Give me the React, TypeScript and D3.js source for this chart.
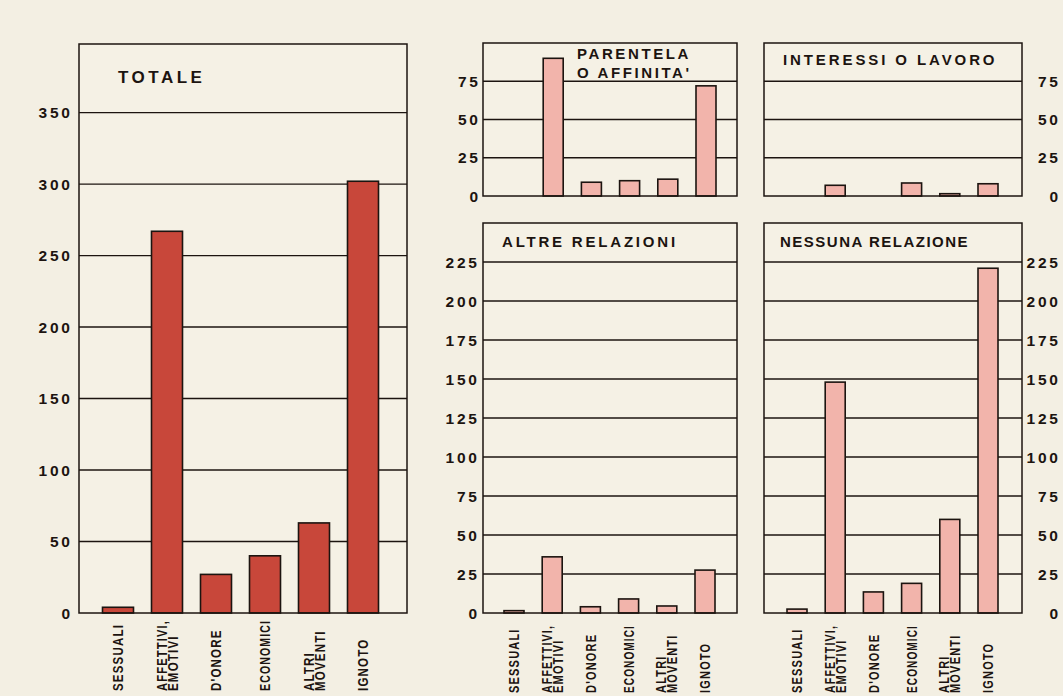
import React from "react";
import * as d3 from "d3";

// ---------- data ----------
const categories = ["SESSUALI", "AFFETTIVI, EMOTIVI", "D'ONORE", "ECONOMICI", "ALTRI MOVENTI", "IGNOTO"];
const categoryLines: string[][] = [["SESSUALI"], ["AFFETTIVI,", "EMOTIVI"], ["D'ONORE"], ["ECONOMICI"], ["ALTRI", "MOVENTI"], ["IGNOTO"]];
const totaleValues = [4, 267, 27, 40, 63, 302];
const parentelaValues = [0, 90, 9, 10, 11, 72];
const interessiValues = [0, 7, 0, 8.5, 1.5, 8];
const altreValues = [1.5, 36, 4, 9, 4.5, 27.5];
const nessunaValues = [2.5, 148, 13.5, 19, 60, 221];
const totaleTicks = [0, 50, 100, 150, 200, 250, 300, 350];
const upperTicks = [0, 25, 50, 75];
const lowerTicks = [0, 25, 50, 75, 100, 125, 150, 175, 200, 225];

// ---------- styles ----------
const BG = "#f3efe3";
const PANEL_BG = "#f5f1e5";
const INK = "#1c1410";
const FONT = "'Liberation Sans', Arial, sans-serif";

type PanelProps = {
  titleLines: string[];
  titleX: number;
  titleY: number;
  titleSize: number;
  titleSpacing: number;
  values: number[];
  ticks: number[];
  domainMax: number;
  x0: number;
  x1: number;
  yTop: number;
  yZero: number;
  barStart: number;
  barEnd: number;
  barWidth: number;
  tickX: number;
  fill: string;
  showLabels: boolean;
  labelBottom: number;
  labelSize: number;
  labelMax: number;
};

function Panel(p: PanelProps) {
  const y = d3.scaleLinear().domain([0, p.domainMax]).range([p.yZero, p.yTop]);
  const x = d3.scalePoint<string>().domain(categories).range([p.barStart, p.barEnd]);
  const tickLs = 2.8;
  return (
    <g>
      <rect x={p.x0} y={p.yTop} width={p.x1 - p.x0} height={p.yZero - p.yTop} fill={PANEL_BG} />
      {p.ticks.filter((t) => t > 0).map((t) => (
        <line key={"g" + t} x1={p.x0} x2={p.x1} y1={y(t)} y2={y(t)} stroke={INK} strokeWidth={1.4} />
      ))}
      {categories.map((c, i) => {
        const v = p.values[i];
        if (!v) return null;
        const cx = x(c) as number;
        return (
          <rect key={"b" + c} x={cx - p.barWidth / 2} y={y(v)} width={p.barWidth} height={p.yZero - y(v)}
            fill={p.fill} stroke={INK} strokeWidth={1.6} />
        );
      })}
      <rect x={p.x0} y={p.yTop} width={p.x1 - p.x0} height={p.yZero - p.yTop} fill="none" stroke={INK} strokeWidth={1.5} />
      {p.ticks.map((t) => (
        <text key={"t" + t} x={p.tickX + tickLs} y={y(t)} dy="0.36em" textAnchor="end"
          fontFamily={FONT} fontWeight="bold" fontSize={15.5} letterSpacing={tickLs} fill={INK}>
          {t}
        </text>
      ))}
      {p.titleLines.map((l, i) => (
        <text key={"h" + i} x={p.titleX} y={p.titleY + i * 19} fontFamily={FONT} fontWeight="bold"
          fontSize={p.titleSize} letterSpacing={p.titleSpacing} fill={INK}>
          {l}
        </text>
      ))}
      {p.showLabels && categories.map((c, i) => {
        const cx = x(c) as number;
        const lines = categoryLines[i];
        const gap = 11;
        return lines.map((l, j) => {
          const off = (j - (lines.length - 1) / 2) * gap;
          const long = l.length > 8;
          return (
            <text key={"c" + c + j} transform={`translate(${cx + off},${p.labelBottom}) rotate(-90) scale(1,1.3)`}
              dy="0.36em" textAnchor="start" fontFamily={FONT} fontWeight="bold"
              fontSize={p.labelSize} letterSpacing={1.2} fill={INK}
              textLength={long ? p.labelMax : undefined}
              lengthAdjust={long ? "spacingAndGlyphs" : undefined}>
              {l}
            </text>
          );
        });
      })}
    </g>
  );
}

export default function App() {
  const totalFill = "#c8473a";
  const pinkFill = "#f2b4ab";
  return (
    <svg width={1063} height={696} style={{ position: "absolute", left: 0, top: 0, display: "block" }}>
      <rect width={1063} height={696} fill={BG} />
      <Panel titleLines={["TOTALE"]} titleX={118} titleY={83} titleSize={17} titleSpacing={3.5}
        values={totaleValues} ticks={totaleTicks} domainMax={398}
        x0={79} x1={407} yTop={44} yZero={613} barStart={118} barEnd={363} barWidth={31}
        tickX={70} fill={totalFill} showLabels={true} labelBottom={691} labelSize={11.5} labelMax={71} />
      <Panel titleLines={["PARENTELA", "O AFFINITA'"]} titleX={577} titleY={59} titleSize={15} titleSpacing={2.6}
        values={parentelaValues} ticks={upperTicks} domainMax={100}
        x0={483} x1={737} yTop={43} yZero={196} barStart={515} barEnd={706} barWidth={20}
        tickX={478} fill={pinkFill} showLabels={false} labelBottom={0} labelSize={11} labelMax={70} />
      <Panel titleLines={["INTERESSI O LAVORO"]} titleX={783} titleY={65} titleSize={15} titleSpacing={2.9}
        values={interessiValues} ticks={upperTicks} domainMax={100}
        x0={764} x1={1022} yTop={43} yZero={196} barStart={797} barEnd={988} barWidth={20}
        tickX={1058} fill={pinkFill} showLabels={false} labelBottom={0} labelSize={11} labelMax={70} />
      <Panel titleLines={["ALTRE RELAZIONI"]} titleX={502} titleY={247} titleSize={15} titleSpacing={2.8}
        values={altreValues} ticks={lowerTicks} domainMax={250}
        x0={483} x1={737} yTop={223} yZero={613} barStart={514} barEnd={705} barWidth={20}
        tickX={477} fill={pinkFill} showLabels={true} labelBottom={693} labelSize={11} labelMax={68} />
      <Panel titleLines={["NESSUNA RELAZIONE"]} titleX={780} titleY={247} titleSize={15} titleSpacing={1.5}
        values={nessunaValues} ticks={lowerTicks} domainMax={250}
        x0={764} x1={1022} yTop={223} yZero={613} barStart={797} barEnd={988} barWidth={20}
        tickX={1058} fill={pinkFill} showLabels={true} labelBottom={693} labelSize={11} labelMax={68} />
    </svg>
  );
}
